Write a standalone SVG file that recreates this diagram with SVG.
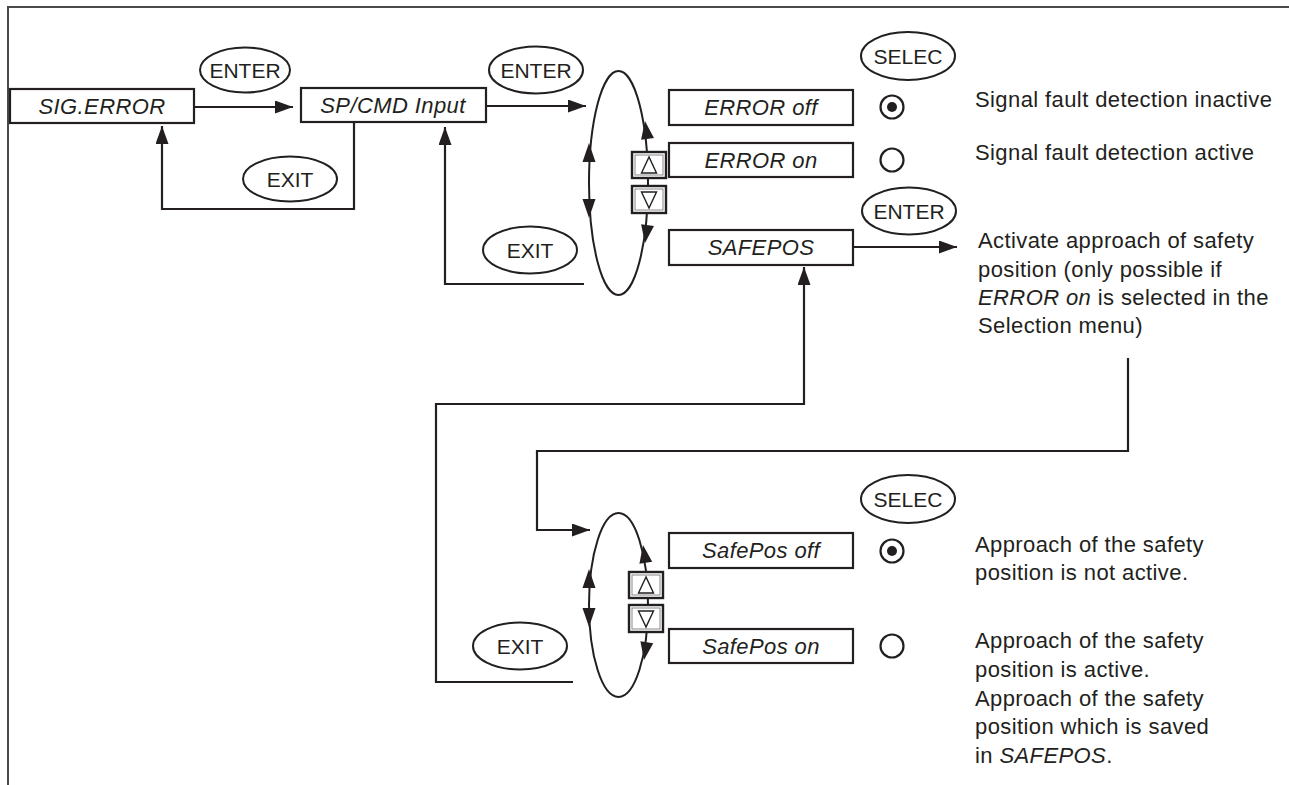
<svg xmlns="http://www.w3.org/2000/svg" width="1289" height="785" viewBox="0 0 1289 785">
<style>
.box{fill:#fff;stroke:#231f20;stroke-width:2.2}
.bt{font-family:"Liberation Sans",Arial,sans-serif;font-size:22px;font-style:italic;fill:#231f20;text-anchor:middle;letter-spacing:0.4px}
.key{fill:#fff;stroke:#231f20;stroke-width:2}
.kt{font-family:"Liberation Sans",Arial,sans-serif;font-size:21px;fill:#231f20;text-anchor:middle}
.tx{font-family:"Liberation Sans",Arial,sans-serif;font-size:22px;fill:#231f20;letter-spacing:0.4px}
.ln{fill:none;stroke:#231f20;stroke-width:2.2}
.loop{fill:none;stroke:#231f20;stroke-width:2}
.ah{fill:#231f20}
.frame{fill:none;stroke:#4a4a4a;stroke-width:2}
.btn{fill:#fff;stroke:#231f20;stroke-width:2.4}
.btn2{fill:none;stroke:#888;stroke-width:1}
.tri{fill:#fff;stroke:#231f20;stroke-width:1.4}
.rad{fill:#fff;stroke:#231f20;stroke-width:2.2}
</style>
<defs>
<marker id="arr" markerUnits="userSpaceOnUse" markerWidth="20" markerHeight="14" refX="18" refY="6.5" orient="auto">
<path d="M0,0 L18,6.5 L0,13 z" fill="#231f20"/>
</marker>
<g id="upbtn">
<rect class="btn" x="0" y="0" width="34" height="26"/>
<rect class="btn2" x="3" y="3" width="28" height="20"/>
<polygon class="tri" points="17,5 9.5,21 24.5,21"/>
</g>
<g id="dnbtn">
<rect class="btn" x="0" y="0" width="34" height="27"/>
<rect class="btn2" x="3" y="3" width="28" height="21"/>
<polygon class="tri" points="17,22 9.5,6 24.5,6"/>
</g>
</defs>
<rect x="0" y="0" width="1289" height="785" fill="#fff"/>
<path class="frame" d="M1289,7 H8 V785"/>

<g id="connectors">
<path class="ln" d="M194,107 H293" marker-end="url(#arr)"/>
<path class="ln" d="M354,123 V209 H162 V126" marker-end="url(#arr)"/>
<path class="ln" d="M486,106 H586" marker-end="url(#arr)"/>
<path class="ln" d="M584,284 H445 V127" marker-end="url(#arr)"/>
<path class="ln" d="M853,247 H957" marker-end="url(#arr)"/>
<path class="ln" d="M573,682 H436 V404 H804 V267" marker-end="url(#arr)"/>
<path class="ln" d="M1128,358 V451 H537 V530 H590" marker-end="url(#arr)"/>
</g>

<g id="loop1">
<ellipse class="loop" cx="618.5" cy="183" rx="29.5" ry="112"/>
<polygon class="ah" points="589,143 582.5,162 595.5,162"/>
<polygon class="ah" points="589,218 582.5,199 595.5,199"/>
<polygon class="ah" transform="translate(645,121) rotate(-8)" points="0,0 -6.5,18 6.5,18"/>
<polygon class="ah" transform="translate(645,243) rotate(8)" points="0,0 -6.5,-18 6.5,-18"/>
<use href="#upbtn" x="632" y="152"/>
<use href="#dnbtn" x="632" y="186"/>
</g>

<g id="loop2">
<ellipse class="loop" cx="618.5" cy="605" rx="29.5" ry="92"/>
<polygon class="ah" points="589,569 582.5,588 595.5,588"/>
<polygon class="ah" points="589,627 582.5,608 595.5,608"/>
<polygon class="ah" transform="translate(643,545) rotate(-9)" points="0,0 -6.5,18 6.5,18"/>
<polygon class="ah" transform="translate(644,660) rotate(9)" points="0,0 -6.5,-18 6.5,-18"/>
<use href="#upbtn" x="629" y="572"/>
<use href="#dnbtn" x="629" y="605"/>
</g>

<g id="sig-error"><rect class="box" x="10" y="89" width="184" height="34"/><text class="bt" x="102" y="114">SIG.ERROR</text></g>
<g id="sp-cmd"><rect class="box" x="301" y="88" width="185" height="34"/><text class="bt" x="393" y="113">SP/CMD Input</text></g>
<g id="error-off"><rect class="box" x="669" y="90" width="184" height="35"/><text class="bt" x="761" y="115">ERROR off</text></g>
<g id="error-on"><rect class="box" x="669" y="143" width="184" height="34"/><text class="bt" x="761" y="168">ERROR on</text></g>
<g id="safepos"><rect class="box" x="669" y="230" width="184" height="35"/><text class="bt" x="761" y="255">SAFEPOS</text></g>
<g id="safepos-off"><rect class="box" x="669" y="533" width="184" height="35"/><text class="bt" x="761" y="558">SafePos off</text></g>
<g id="safepos-on"><rect class="box" x="669" y="629" width="184" height="34"/><text class="bt" x="761" y="654">SafePos on</text></g>

<g id="enter1"><ellipse class="key" cx="245" cy="70" rx="45" ry="22.5"/><text class="kt" x="245" y="78">ENTER</text></g>
<g id="exit1"><ellipse class="key" cx="290" cy="179" rx="47" ry="22.5"/><text class="kt" x="290" y="187">EXIT</text></g>
<g id="enter2"><ellipse class="key" cx="536" cy="70" rx="47" ry="23.5"/><text class="kt" x="536" y="78">ENTER</text></g>
<g id="exit2"><ellipse class="key" cx="530" cy="250" rx="47" ry="23.5"/><text class="kt" x="530" y="258">EXIT</text></g>
<g id="selec1"><ellipse class="key" cx="908" cy="56" rx="47" ry="24"/><text class="kt" x="908" y="64">SELEC</text></g>
<g id="enter3"><ellipse class="key" cx="909" cy="211" rx="47" ry="23.5"/><text class="kt" x="909" y="219">ENTER</text></g>
<g id="selec2"><ellipse class="key" cx="908" cy="499" rx="47" ry="24"/><text class="kt" x="908" y="507">SELEC</text></g>
<g id="exit3"><ellipse class="key" cx="520" cy="646" rx="47" ry="23.5"/><text class="kt" x="520" y="654">EXIT</text></g>

<g id="radio1"><circle class="rad" cx="892" cy="107" r="11.5"/><circle cx="892" cy="107" r="5" fill="#231f20"/></g>
<g id="radio2"><circle class="rad" cx="892" cy="160" r="11.5"/></g>
<g id="radio3"><circle class="rad" cx="892" cy="551" r="11.5"/><circle cx="892" cy="551" r="5" fill="#231f20"/></g>
<g id="radio4"><circle class="rad" cx="892" cy="646" r="11.5"/></g>

<g id="desc1"><text class="tx" x="975" y="107">Signal fault detection inactive</text></g>
<g id="desc2"><text class="tx" x="975" y="160">Signal fault detection active</text></g>
<g id="desc3">
<text class="tx" x="978" y="248">Activate approach of safety</text>
<text class="tx" x="978" y="277">position (only possible if</text>
<text class="tx" x="978" y="305"><tspan font-style="italic">ERROR on</tspan> is selected in the</text>
<text class="tx" x="978" y="333">Selection menu)</text>
</g>
<g id="desc4">
<text class="tx" x="975" y="552">Approach of the safety</text>
<text class="tx" x="975" y="580">position is not active.</text>
</g>
<g id="desc5">
<text class="tx" x="975" y="648">Approach of the safety</text>
<text class="tx" x="975" y="677">position is active.</text>
<text class="tx" x="975" y="706">Approach of the safety</text>
<text class="tx" x="975" y="734">position which is saved</text>
<text class="tx" x="975" y="763">in <tspan font-style="italic">SAFEPOS</tspan>.</text>
</g>
</svg>
